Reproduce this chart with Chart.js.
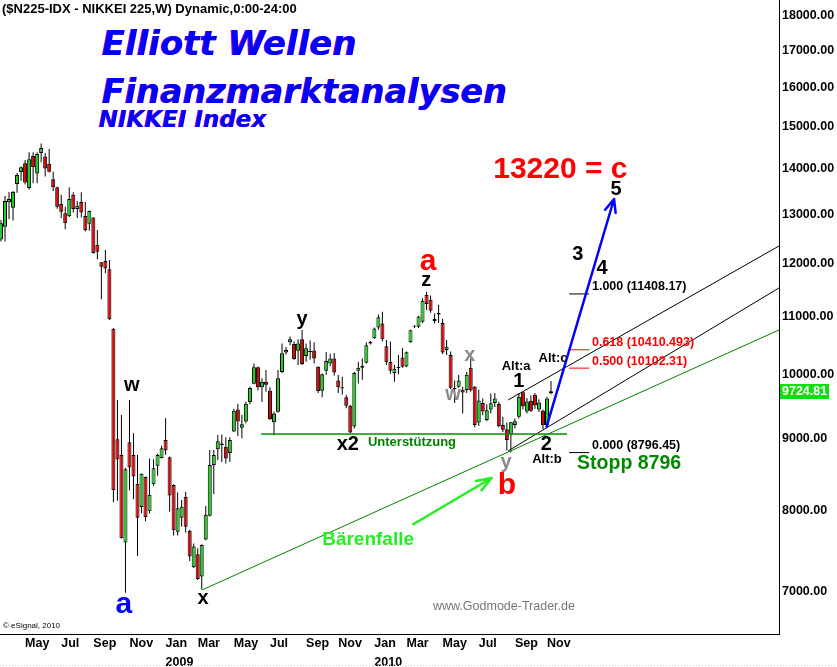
<!DOCTYPE html>
<html>
<head>
<meta charset="utf-8">
<script src="https://cdn.jsdelivr.net/npm/chart.js@4.4.1/dist/chart.umd.min.js"></script>
<style>
  html, body { margin: 0; padding: 0; background: #fff; }
  #wrap { width: 837px; height: 667px; }
</style>
</head>
<body>
<div id="wrap"><canvas id="nikkei" width="837" height="667"></canvas></div>
<script>
// Wochenkerzen Nikkei 225 (Wochenende = Freitag)
const weeks = [
  '2008-03-28','2008-04-04','2008-04-11','2008-04-18','2008-04-25','2008-05-02','2008-05-09','2008-05-16','2008-05-23','2008-05-30',
  '2008-06-06','2008-06-13','2008-06-20','2008-06-27','2008-07-04','2008-07-11','2008-07-18','2008-07-25','2008-08-01','2008-08-08',
  '2008-08-15','2008-08-22','2008-08-29','2008-09-05','2008-09-12','2008-09-19','2008-09-26','2008-10-03','2008-10-10','2008-10-17',
  '2008-10-24','2008-10-31','2008-11-07','2008-11-14','2008-11-21','2008-11-28','2008-12-05','2008-12-12','2008-12-19','2008-12-26',
  '2009-01-02','2009-01-09','2009-01-16','2009-01-23','2009-01-30','2009-02-06','2009-02-13','2009-02-20','2009-02-27','2009-03-06',
  '2009-03-13','2009-03-20','2009-03-27','2009-04-03','2009-04-10','2009-04-17','2009-04-24','2009-05-01','2009-05-08','2009-05-15',
  '2009-05-22','2009-05-29','2009-06-05','2009-06-12','2009-06-19','2009-06-26','2009-07-03','2009-07-10','2009-07-17','2009-07-24',
  '2009-07-31','2009-08-07','2009-08-14','2009-08-21','2009-08-28','2009-09-04','2009-09-11','2009-09-18','2009-09-25','2009-10-02',
  '2009-10-09','2009-10-16','2009-10-23','2009-10-30','2009-11-06','2009-11-13','2009-11-20','2009-11-27','2009-12-04','2009-12-11',
  '2009-12-18','2009-12-25','2010-01-01','2010-01-08','2010-01-15','2010-01-22','2010-01-29','2010-02-05','2010-02-12','2010-02-19',
  '2010-02-26','2010-03-05','2010-03-12','2010-03-19','2010-03-26','2010-04-02','2010-04-09','2010-04-16','2010-04-23','2010-04-30',
  '2010-05-07','2010-05-14','2010-05-21','2010-05-28','2010-06-04','2010-06-11','2010-06-18','2010-06-25','2010-07-02','2010-07-09',
  '2010-07-16','2010-07-23','2010-07-30','2010-08-06','2010-08-13','2010-08-20','2010-08-27','2010-09-03','2010-09-10','2010-09-17',
  '2010-09-24','2010-10-01','2010-10-08','2010-10-15','2010-10-22','2010-10-29','2010-11-05','2010-11-12'
];
const openP = [
  12474,12735,13260,13140,13660,13930,14135,13570,14300,13900,
  14370,14290,14120,13770,13590,13220,13020,12960,13420,13110,
  13265,12965,12800,12930,12360,12015,12040,11880,10770,8990,
  8760,7590,8945,8760,8355,8045,8450,7990,8350,8610,
  8720,8980,8730,8340,7725,7905,8180,7740,7290,7445,
  7180,7630,7930,8620,8845,8930,8880,8790,9105,9440,
  9160,9255,9555,9845,10115,9790,9880,9735,9245,9405,
  10040,10365,10540,10510,10395,10590,10305,10390,10400,10125,
  9735,10060,10180,10265,9900,9790,9630,9500,9180,10060,
  10110,10190,10520,10610,10800,10870,10470,10205,10020,10100,
  10280,10130,10540,10810,10810,10900,11390,11300,10950,11030,
  10880,10407,10320,9780,9800,9750,9747,10110,9800,9240,
  9540,9280,9440,9540,9525,9205,9140,9060,9205,9330,
  9710,9410,9575,9670,9440,9420,9205,9700
];
const highP = [
  12879,13395,13485,13505,13910,14060,14210,14390,14390,14390,
  14600,14370,14470,13940,13600,13420,13160,13590,13475,13287,
  13475,13265,13080,12935,12670,12020,12260,12060,10790,9590,
  9355,8580,9590,9080,8760,8500,8460,8710,8700,8780,
  8895,9305,8740,8350,8240,8140,8250,7750,7580,7520,
  7570,8060,8835,8835,9055,9060,9020,9020,9450,9530,
  9355,9560,9800,10180,10130,9935,10070,9790,9405,10070,
  10520,10460,10640,10555,10590,10755,10520,10570,10540,10135,
  10015,10375,10345,10355,9990,9960,9670,9510,10040,10210,
  10265,10540,10560,10800,11030,11080,10580,10555,10155,10320,
  10440,10380,10760,10840,11010,11330,11450,11380,11050,11210,
  10950,10580,10380,9900,9990,9800,10040,10265,9810,9750,
  9610,9520,9690,9700,9560,9330,9240,9250,9300,9700,
  9720,9620,9660,9700,9600,9440,9640,9890
];
const lowP = [
  12430,12430,12900,12865,13465,13735,13650,13540,13680,13680,
  14155,13830,13920,13505,13120,12920,12685,12940,13035,12920,
  12930,12640,12655,12190,12075,11310,11800,10930,8108,8130,
  7640,6990,8265,8150,7425,7965,7860,7960,8330,8470,
  8710,8765,7985,7680,7680,7790,7715,7365,7280,7140,
  7030,7620,7920,8220,8690,8660,8640,8660,9100,9040,
  9005,9230,9520,9840,9740,9555,9720,9280,9050,9390,
  10020,10330,10490,10240,10155,10155,10210,10240,10180,9700,
  9630,9995,10135,9980,9700,9670,9460,9080,9150,9850,
  9910,10180,10500,10600,10760,10555,10155,10010,9880,10000,
  10110,10120,10530,10790,10790,10880,11110,11060,10870,10880,
  10340,10320,9760,9540,9780,9380,9700,9720,9170,9190,
  9350,9260,9380,9480,9170,9100,8830,8796.45,9150,9300,
  9440,9380,9400,9450,9400,9140,9180,9680
];
const closeP = [
  12810,13287,13330,13485,13865,14040,13695,14225,14040,14350,
  14490,14010,13940,13590,13160,13055,12810,13330,13110,13180,
  13040,12670,13070,12200,12225,11930,11895,10945,8274,8697,
  7645,8560,8585,8460,7905,8495,7915,8210,8575,8760,
  8860,8825,8200,7745,8030,8050,7790,7420,7540,7150,
  7560,7945,8620,8760,8960,8907,8710,8980,9420,9255,
  9215,9530,9780,10115,9790,9880,9830,9290,9380,9935,
  10350,10405,10590,10250,10520,10170,10435,10375,10265,9730,
  10000,10220,10265,10030,9790,9770,9500,9090,10020,10107,
  10142,10490,10546,10780,10982,10590,10198,10057,10092,10123,
  10126,10370,10750,10824,10996,11280,11220,11100,10914,11057,
  10364,10462,9784,9762,9901,9705,9995,9737,9205,9580,
  9410,9430,9537,9610,9185,9130,8980,9245,9260,9640,
  9490,9565,9420,9505,9550,9200,9610,9724.81
];
const yTicks = [7000, 8000, 9000, 10000, 11000, 12000, 13000, 14000, 15000, 16000, 17000, 18000];
const monthNames = ['Jan','Feb','Mar','Apr','May','Jun','Jul','Aug','Sep','Oct','Nov','Dec'];
const lastPrice = 9724.81;
const fibLevels = [11408.17, 10410.493, 10102.31, 8796.45];
const fibNames = ['1.000', '0.618', '0.500', '0.000'];
const supportLevel = 9069;
const targetC = 13220;
const stopLevel = 8796;

// Monatsmarken: erste Woche (Montag) eines ungeraden Monats
const tickIdx = [];
const tickText = {};
let prevMonth = null;
weeks.forEach((d, i) => {
  const mon = new Date(d + 'T00:00:00Z');
  mon.setUTCDate(mon.getUTCDate() - 4);
  const m = mon.getUTCMonth();
  if (prevMonth !== null && m !== prevMonth && m % 2 === 0) {
    tickIdx.push(i);
    tickText[i] = m === 0 ? [monthNames[m], String(mon.getUTCFullYear())] : monthNames[m];
  }
  prevMonth = m;
});

const GREEN = '#22cc22';
const RED = '#dd0000';
const FA = '"Liberation Sans", Arial, sans-serif';
const FD = '"DejaVu Sans", Verdana, sans-serif';

// Markierungen (Wochenindex, Kurs)
const waveLabels = [
  { t: 'w',  i: 32.6,  v: 9827,  c: '#000', f: 'bold 20px ' + FA },
  { t: 'a',  i: 30.6,  v: 6852,  c: '#0000ff', f: 'bold 30px ' + FA },
  { t: 'x',  i: 50.3,  v: 6931,  c: '#000', f: 'bold 20px ' + FA },
  { t: 'y',  i: 75.0,  v: 10932, c: '#000', f: 'bold 20px ' + FA },
  { t: 'x2', i: 86.4,  v: 8907,  c: '#000', f: 'bold 20px ' + FA },
  { t: 'z',  i: 105.9, v: 11654, c: '#000', f: 'bold 20px ' + FA },
  { t: 'a',  i: 106.4, v: 12022, c: '#ff0000', f: 'bold 30px ' + FA },
  { t: 'x',  i: 116.8, v: 10322, c: '#8a8a8a', f: 'bold 20px ' + FA },
  { t: 'w',  i: 112.6, v: 9683,  c: '#8a8a8a', f: 'bold 20px ' + FA },
  { t: 'Alt:a', i: 128.3, v: 10138, c: '#000', f: 'bold 13px ' + FA },
  { t: '1',  i: 129.0, v: 9876,  c: '#000', f: 'bold 20px ' + FA },
  { t: 'Alt:c', i: 137.5, v: 10272, c: '#000', f: 'bold 13px ' + FA },
  { t: 'y',  i: 125.8, v: 8648,  c: '#8a8a8a', f: 'bold 20px ' + FA },
  { t: 'b',  i: 126.0, v: 8328,  c: '#ff0000', f: 'bold 30px ' + FA },
  { t: '2',  i: 135.8, v: 8907,  c: '#000', f: 'bold 20px ' + FA },
  { t: 'Alt:b', i: 136.0, v: 8705, c: '#000', f: 'bold 13px ' + FA },
  { t: '3',  i: 143.7, v: 12161, c: '#000', f: 'bold 20px ' + FA },
  { t: '4',  i: 149.7, v: 11903, c: '#000', f: 'bold 20px ' + FA },
  { t: '5',  i: 153.2, v: 13549, c: '#000', f: 'bold 20px ' + FA }
];

function arrow(ctx, x1, y1, x2, y2, len, ang) {
  const t = Math.atan2(y2 - y1, x2 - x1);
  ctx.beginPath();
  ctx.moveTo(x1, y1); ctx.lineTo(x2, y2);
  ctx.moveTo(x2, y2); ctx.lineTo(x2 - len * Math.cos(t - ang), y2 - len * Math.sin(t - ang));
  ctx.moveTo(x2, y2); ctx.lineTo(x2 - len * Math.cos(t + ang), y2 - len * Math.sin(t + ang));
  ctx.stroke();
}

const overlay = {
  id: 'overlay',
  afterDatasetsDraw(chart) {
    const { ctx, chartArea: area, scales: { x, y } } = chart;
    const X = i => x.getPixelForValue(i);
    const Y = v => y.getPixelForValue(v);
    const line = (i1, v1, i2, v2, color, w) => {
      ctx.strokeStyle = color; ctx.lineWidth = w;
      ctx.beginPath(); ctx.moveTo(X(i1), Y(v1)); ctx.lineTo(X(i2), Y(v2)); ctx.stroke();
    };
    const text = (s, px, py, font, color, align, base) => {
      ctx.font = font; ctx.fillStyle = color;
      ctx.textAlign = align || 'center'; ctx.textBaseline = base || 'middle';
      ctx.fillText(s, px, py);
    };
    ctx.save();
    ctx.beginPath(); ctx.rect(area.left, area.top, area.right - area.left, area.bottom - area.top); ctx.clip();

    // Trendlinien
    line(50.07, 7023, x.max, 10754, '#008000', 1);
    line(126.3, 9588, x.max, 12341, '#000', 1);
    line(126.3, 8820, x.max, 11521, '#000', 1);
    line(64.8, supportLevel, 141.0, supportLevel, '#009000', 1.5);

    // Fibonacci-Marken
    fibLevels.forEach((lv, k) => {
      const col = (k === 1 || k === 2) ? '#ff0000' : '#000';
      line(141.5, lv, 146.5, lv, col, 1);
      text(fibNames[k] + ' (' + lv + ')', X(147.2), Y(lv) - 3.5, 'bold 12.5px ' + FA, col, 'left', 'alphabetic');
    });

    // Pfeile
    ctx.lineCap = 'round';
    ctx.strokeStyle = '#0000ff'; ctx.lineWidth = 2.5;
    arrow(ctx, X(135.9), Y(9178), X(152.7), Y(13329), 14, 0.4);
    ctx.strokeStyle = '#22ee22'; ctx.lineWidth = 2.5;
    arrow(ctx, X(102.7), Y(7821), X(122.2), Y(8438), 16, 0.35);
    ctx.lineCap = 'butt';

    // Wellenbeschriftung
    waveLabels.forEach(l => text(l.t, X(l.i), Y(l.v), l.f, l.c));
    text('Unterstützung', X(91.4), Y(8951), 'bold 13px ' + FA, '#008000', 'left');
    text(targetC + ' = c', X(122.6), Y(13979), 'bold 30px ' + FA, '#ff0000', 'left');
    text('Stopp ' + stopLevel, X(143.5), Y(8632), 'bold 19.5px ' + FA, '#008800', 'left');
    text('Bärenfalle', X(80.0), Y(7623), 'bold 19px ' + FA, '#22ee22', 'left');

    // Titel
    const title = (s, px, py, size) => {
      ctx.font = 'italic bold ' + size + 'px ' + FD;
      ctx.textAlign = 'left'; ctx.textBaseline = 'alphabetic';
      ctx.fillStyle = '#c000c0';
      ctx.fillText(s, px - 0.8, py);
      ctx.fillStyle = '#0000ff';
      ctx.fillText(s, px, py);
    };
    title('Elliott Wellen', area.left + 102, area.top + 55, 34);
    title('Finanzmarktanalysen', area.left + 102, area.top + 103, 33.5);
    title('NIKKEI Index', area.left + 99, area.top + 127, 23);

    text('($N225-IDX - NIKKEI 225,W) Dynamic,0:00-24:00', area.left + 2, area.top + 9, 'bold 13px ' + FA, '#000', 'left');
    text('www.Godmode-Trader.de', area.left + 433, area.top + 607, '12.5px ' + FA, '#777', 'left');
    text('\u00A9 eSignal, 2010', area.left + 3, area.top + 626, '8px ' + FA, '#000', 'left');
    ctx.restore();
  },
  afterDraw(chart) {
    const { ctx, chartArea: area, scales: { y } } = chart;
    const py = Math.round(y.getPixelForValue(lastPrice));
    ctx.save();
    ctx.fillStyle = '#11dd11';
    ctx.fillRect(area.right + 1, py - 7, 49, 15);
    ctx.font = 'bold 12.5px ' + FA;
    ctx.fillStyle = '#fff';
    ctx.textAlign = 'left'; ctx.textBaseline = 'middle';
    ctx.fillText(lastPrice.toFixed(2), area.right + 3, py + 0.5);
    ctx.strokeStyle = '#cfcfcf'; ctx.setLineDash([1, 2]); ctx.lineWidth = 1;
    ctx.beginPath(); ctx.moveTo(0, 665.5); ctx.lineTo(chart.width, 665.5); ctx.stroke();
    ctx.restore();
  }
};

const bodyColor = c => closeP[c.dataIndex] >= openP[c.dataIndex] ? GREEN : RED;

new Chart(document.getElementById('nikkei').getContext('2d'), {
  type: 'bar',
  data: {
    datasets: [
      {
        label: 'Körper',
        data: weeks.map((d, i) => ({ x: i, y: [openP[i], closeP[i]] })),
        backgroundColor: bodyColor,
        borderColor: '#000',
        borderWidth: 1,
        borderSkipped: false,
        barThickness: 4,
        grouped: false,
        inflateAmount: 0
      },
      {
        label: 'Docht',
        data: weeks.map((d, i) => ({ x: i, y: [lowP[i], highP[i]] })),
        backgroundColor: '#000',
        borderWidth: 0,
        barThickness: 1,
        grouped: false,
        inflateAmount: 0
      }
    ]
  },
  options: {
    responsive: false,
    animation: false,
    events: [],
    layout: { padding: 0 },
    plugins: { legend: { display: false }, tooltip: { enabled: false } },
    scales: {
      x: {
        type: 'linear',
        offset: false,
        min: -0.249,
        max: 193.79,
        grid: { display: false, drawTicks: false },
        border: { display: true, color: '#000', width: 1 },
        afterBuildTicks: s => { s.ticks = tickIdx.map(v => ({ value: v })); },
        afterFit: s => { s.height = 33; s.paddingLeft = 0; s.paddingRight = 0; },
        ticks: {
          autoSkip: false,
          maxRotation: 0,
          align: 'start',
          padding: 0,
          color: '#000',
          font: { family: FA, size: 12.5, weight: 'bold', lineHeight: '18.7px' },
          callback: v => tickText[v] || ''
        }
      },
      y: {
        type: 'logarithmic',
        position: 'right',
        min: 6534,
        max: 18469,
        grid: { display: false, drawTicks: false },
        border: { display: true, color: '#000', width: 1 },
        afterBuildTicks: s => { s.ticks = yTicks.map(v => ({ value: v })); },
        afterFit: s => { s.width = 58; s.paddingTop = 0; s.paddingBottom = 0; },
        ticks: {
          padding: 3,
          color: '#000',
          font: { family: FA, size: 12.5, weight: 'bold' },
          callback: v => Number(v).toFixed(2)
        }
      }
    }
  },
  plugins: [overlay]
});
</script>
</body>
</html>
